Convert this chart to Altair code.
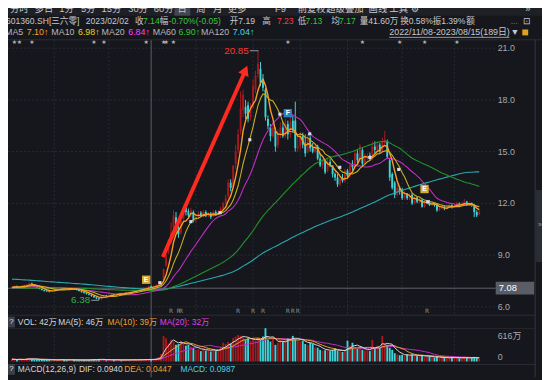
import altair as alt
import numpy as np
import pandas as pd

# ---------------- data ----------------
# warm-up closes before 2022/11/08, only used so MA60 / MA120 start at the right level
pre_close = [
    8.05, 8.12, 8.30, 8.41, 8.25, 8.14, 8.33, 8.52, 8.60, 8.44,
    8.31, 8.22, 8.40, 8.48, 8.35, 8.20, 8.12, 8.03, 8.18, 8.30,
    8.42, 8.33, 8.21, 8.10, 8.28, 8.39, 8.24, 8.12, 8.02, 8.16,
    8.30, 8.22, 8.11, 8.04, 8.13, 8.25, 8.32, 8.20, 8.10, 8.01,
    8.18, 8.29, 8.38, 8.22, 8.12, 8.20, 8.31, 8.19, 8.05, 8.11,
    8.20, 8.08, 7.98, 7.90, 7.96, 7.88,
    7.62, 7.48, 7.36, 7.30, 7.22, 7.15, 7.18, 7.10, 7.05, 7.12,
    7.08, 7.00, 7.06, 7.14, 7.09, 7.02, 6.95, 7.01, 7.08, 7.03,
    7.10, 7.16, 7.11, 7.04, 7.09, 7.02, 6.96, 7.00, 7.07, 7.02,
    7.01, 7.08, 7.03, 6.97, 7.02, 7.09, 7.15, 7.10, 7.04, 7.08,
    7.02, 6.96, 7.01, 7.07, 7.03, 7.09, 7.16, 7.11, 7.05, 6.99,
    7.03, 7.08, 7.04, 7.10, 7.15, 7.12, 7.06, 7.10, 7.16, 7.12,
    7.07, 7.11, 7.16, 7.12,
]

close = [
    7.15, 7.20, 7.12, 7.18, 7.22, 7.25, 7.30, 7.35, 7.28, 7.20,
    7.10, 7.05, 6.98, 6.92, 6.90, 6.88, 6.95, 7.00, 7.02, 7.05,
    7.08, 7.05, 7.00, 7.04, 7.06, 7.02, 6.98, 6.92, 6.85, 6.80,
    6.75, 6.70, 6.62, 6.55, 6.48, 6.45, 6.60, 6.65, 6.62, 6.68,
    6.72, 6.70, 6.75, 6.78, 6.76, 6.80, 6.84, 6.86, 6.90, 6.92,
    6.96, 7.00, 7.05, 7.08, 7.10, 7.19, 7.14, 7.20, 7.26, 7.32,
    7.45, 8.20, 9.00, 9.90, 10.30, 11.30, 10.50, 10.20, 11.00, 11.70,
    11.50, 11.30, 11.60, 11.00, 11.20, 11.40, 11.30, 11.50, 11.30, 11.40,
    11.20, 11.50, 11.40, 11.50, 11.70, 12.00, 12.30, 13.20, 12.90, 14.20,
    15.00, 16.00, 17.50, 18.30, 17.20, 16.90, 17.60, 18.80, 19.40, 20.10,
    19.00, 18.70, 17.00, 16.50, 15.90, 16.40, 15.30, 16.00, 16.40, 15.90,
    16.60, 16.00, 16.70, 16.30, 15.20, 15.30, 15.90, 15.40, 14.90, 15.80,
    15.20, 15.00, 15.30, 14.60, 14.20, 14.50, 13.80, 14.40, 14.20, 13.70,
    13.50, 13.10, 13.40, 13.30, 13.90, 13.60, 14.20, 14.10, 14.90, 14.50,
    15.30, 14.30, 14.60, 14.70, 14.60, 15.30, 15.10, 15.40, 15.00, 15.60,
    15.70, 14.70, 13.50, 12.90, 12.50, 12.90, 12.70, 12.30, 12.50, 12.30,
    12.40, 12.00, 12.30, 12.10, 12.20, 11.80, 12.00, 12.10, 11.90, 12.00,
    11.90, 11.60, 11.70, 11.80, 11.70, 11.80, 11.90, 11.80, 11.90, 12.00,
    11.90, 12.00, 12.10, 11.90, 12.00, 11.90, 11.50, 11.30, 11.50,
]

open_ = [
    7.10, 7.14, 7.20, 7.12, 7.17, 7.21, 7.24, 7.30, 7.36, 7.27,
    7.19, 7.10, 7.04, 6.97, 6.93, 6.91, 6.88, 6.95, 7.00, 7.02,
    7.05, 7.09, 7.05, 7.00, 7.03, 7.07, 7.02, 6.98, 6.92, 6.85,
    6.80, 6.76, 6.70, 6.62, 6.55, 6.50, 6.46, 6.60, 6.66, 6.62,
    6.68, 6.73, 6.70, 6.75, 6.79, 6.76, 6.80, 6.84, 6.86, 6.90,
    6.93, 6.96, 7.00, 7.05, 7.08, 7.11, 7.19, 7.14, 7.20, 7.27,
    7.32, 7.55, 8.40, 9.20, 10.00, 10.60, 11.20, 10.60, 10.30, 11.10,
    11.75, 11.55, 11.30, 11.50, 11.00, 11.20, 11.45, 11.30, 11.50, 11.30,
    11.40, 11.25, 11.50, 11.40, 11.50, 11.70, 12.00, 12.40, 13.20, 13.00,
    14.30, 15.10, 16.20, 17.40, 17.60, 17.70, 17.00, 17.60, 18.60, 19.50,
    19.80, 19.20, 18.60, 16.90, 16.40, 15.90, 16.20, 15.40, 16.00, 16.40,
    15.90, 16.60, 16.00, 16.80, 16.80, 15.20, 15.30, 15.90, 15.40, 15.00,
    15.80, 15.20, 15.00, 15.30, 14.60, 14.20, 14.50, 13.90, 14.40, 14.20,
    13.70, 13.50, 13.10, 13.45, 13.30, 13.90, 13.60, 14.30, 14.10, 14.90,
    14.50, 15.10, 14.30, 14.60, 14.80, 14.60, 15.30, 15.10, 15.40, 15.00,
    15.50, 15.60, 14.50, 13.70, 13.20, 12.50, 12.90, 12.80, 12.30, 12.55,
    12.30, 12.50, 12.00, 12.35, 12.10, 12.20, 11.80, 12.00, 12.10, 11.90,
    12.00, 11.95, 11.60, 11.70, 11.80, 11.70, 11.80, 11.90, 11.80, 11.90,
    12.00, 11.90, 12.00, 12.10, 11.90, 12.00, 11.90, 11.50, 11.35,
]

high = [
    7.20, 7.24, 7.23, 7.22, 7.26, 7.29, 7.34, 7.42, 7.40, 7.30,
    7.22, 7.13, 7.06, 7.00, 6.96, 6.94, 6.99, 7.04, 7.06, 7.09,
    7.12, 7.12, 7.08, 7.07, 7.10, 7.10, 7.05, 7.00, 6.94, 6.88,
    6.83, 6.79, 6.73, 6.65, 6.58, 6.53, 6.64, 6.69, 6.69, 6.71,
    6.76, 6.76, 6.78, 6.82, 6.81, 6.83, 6.87, 6.90, 6.93, 6.96,
    6.99, 7.04, 7.09, 7.12, 7.14, 7.23, 7.23, 7.24, 7.30, 7.38,
    7.50, 8.20, 9.02, 9.90, 10.89, 11.60, 11.50, 10.90, 11.20, 11.90,
    11.95, 11.70, 11.75, 11.60, 11.35, 11.55, 11.55, 11.60, 11.60, 11.50,
    11.50, 11.60, 11.60, 11.60, 11.80, 12.10, 12.50, 13.40, 13.40, 14.20,
    15.40, 16.30, 18.50, 18.60, 18.00, 17.90, 17.80, 19.20, 19.70, 20.85,
    20.20, 19.50, 18.70, 17.10, 16.60, 16.70, 16.40, 16.30, 16.70, 16.70,
    16.90, 16.80, 17.00, 17.10, 17.90, 15.90, 16.10, 16.10, 16.00, 16.00,
    15.90, 15.50, 15.45, 15.40, 14.90, 14.60, 14.50, 14.60, 14.60, 14.20,
    13.80, 13.70, 13.60, 13.70, 14.00, 14.00, 14.40, 14.50, 15.06, 15.10,
    15.45, 15.20, 14.90, 14.90, 14.95, 15.60, 15.60, 15.60, 15.50, 15.80,
    16.20, 15.70, 14.60, 13.80, 13.30, 13.10, 13.00, 12.90, 12.70, 12.60,
    12.60, 12.60, 12.40, 12.40, 12.30, 12.30, 12.10, 12.20, 12.20, 12.10,
    12.05, 12.00, 11.80, 11.90, 11.90, 11.90, 12.00, 11.95, 12.00, 12.10,
    12.05, 12.10, 12.25, 12.15, 12.10, 12.05, 11.95, 11.60, 11.65,
]

low = [
    7.06, 7.10, 7.09, 7.08, 7.13, 7.17, 7.20, 7.26, 7.25, 7.16,
    7.06, 7.01, 6.94, 6.88, 6.86, 6.84, 6.85, 6.92, 6.97, 6.99,
    7.02, 7.01, 6.97, 6.97, 7.00, 6.99, 6.95, 6.89, 6.82, 6.76,
    6.71, 6.66, 6.58, 6.51, 6.44, 6.38, 6.42, 6.57, 6.58, 6.59,
    6.65, 6.66, 6.67, 6.72, 6.72, 6.73, 6.77, 6.81, 6.83, 6.87,
    6.90, 6.93, 6.97, 7.02, 7.05, 7.08, 7.13, 7.10, 7.16, 7.22,
    7.28, 7.50, 8.30, 9.05, 9.70, 10.50, 10.30, 10.00, 10.20, 11.00,
    11.30, 11.15, 11.20, 10.90, 10.90, 11.10, 11.20, 11.25, 11.20, 11.20,
    11.10, 11.20, 11.30, 11.35, 11.45, 11.60, 11.90, 12.30, 12.70, 12.90,
    14.00, 14.90, 16.00, 17.00, 16.90, 16.70, 16.80, 17.50, 18.40, 19.30,
    18.80, 18.50, 16.80, 16.30, 15.60, 15.80, 15.00, 15.20, 15.80, 15.80,
    15.80, 15.70, 15.80, 16.10, 15.00, 15.00, 15.10, 15.20, 14.70, 14.90,
    15.00, 14.90, 14.90, 14.50, 14.10, 14.00, 13.70, 13.80, 14.10, 13.50,
    13.30, 12.95, 13.00, 13.20, 13.20, 13.50, 13.50, 13.90, 14.00, 14.30,
    14.40, 14.10, 14.20, 14.50, 14.50, 14.50, 14.90, 15.00, 14.90, 14.90,
    15.30, 14.60, 13.30, 12.80, 12.30, 12.40, 12.50, 12.20, 12.20, 12.20,
    12.20, 11.90, 11.95, 12.00, 12.00, 11.75, 11.75, 11.90, 11.85, 11.85,
    11.80, 11.50, 11.55, 11.65, 11.60, 11.65, 11.75, 11.70, 11.75, 11.85,
    11.85, 11.85, 11.95, 11.85, 11.85, 11.80, 11.20, 11.20, 11.30,
]

volume = [  # 万
    55, 48, 40, 62, 45, 50, 70, 85, 60, 45,
    40, 38, 42, 50, 35, 30, 45, 40, 38, 42,
    48, 36, 33, 40, 44, 38, 35, 32, 36, 40,
    42, 38, 45, 50, 55, 60, 48, 40, 35, 38,
    42, 36, 40, 38, 34, 36, 40, 42, 45, 38,
    40, 44, 48, 50, 46, 55, 42, 60, 70, 110,
    180, 616, 560, 430, 520, 480, 400, 420, 500, 430,
    380, 400, 360, 330, 280, 300, 250, 320, 260, 280,
    240, 300, 250, 270, 350, 450, 420, 470, 430, 560,
    600, 640, 620, 580, 520, 560, 500, 540, 500, 560,
    520, 600, 800, 520, 480, 570, 400, 450, 520, 480,
    520, 560, 560, 616, 540, 500, 480, 500, 420, 400,
    450, 420, 340, 330, 280, 260, 270, 290, 250, 280,
    320, 260, 240, 230, 260, 500, 380, 450, 330, 300,
    360, 280, 260, 270, 250, 520, 300, 380, 330, 616,
    450, 400, 330, 280, 200, 170, 150, 160, 140, 170,
    150, 165, 140, 130, 150, 140, 120, 110, 130, 100,
    95, 120, 90, 85, 100, 80, 90, 110, 85, 95,
    80, 75, 120, 90, 80, 85, 110, 95, 70,
]

price_ticks = [21.0, 18.0, 15.0, 12.0, 9.0, 6.0]
month_start_idx = [17, 39, 74, 97, 116, 135, 157, 178]
crosshair_idx = [56]
crosshair_price = [7.08]
star_idx = [1, 3, 8, 33, 37, 54, 61, 62, 65, 111, 141, 156, 166, 179]
r_idx = [64, 67, 68, 91, 97, 101, 111, 113, 115, 167]
sig_idx = [59.5, 72, 83.7, 95.7, 107.8, 119.8, 131.9, 144, 155.6, 167.3]
sig_price = [7.4, 10.94, 11.46, 15.69, 17.17, 16.03, 14.09, 14.66, 13.97, 12.09]
event_idx = [54, 111, 166]
event_price = [7.57, 17.23, 12.83]
event_label = ["E", "F", "E"]
event_color = ["#d6a834", "#2b80c4", "#d6a834"]
arrow_idx = [60.7, 93.3]
arrow_price = [8.89, 19.5]
arrow_head = [93.9, 19.72]
hi_label = [95.3, 20.85]
lo_label = [31.5, 6.38]
vol_tick = [616]

# ---------------- styling ----------------
FONT = "Liberation Sans, Noto Sans CJK SC, sans-serif"
BG = "#15171c"
UP = "#a8191d"
DOWN = "#3dd4da"
GRID = "#2a2d35"
AX = "#a9a9ae"
TXT = "#c8c8cc"
W, H, OFF = 542, 372, 8

XS = alt.Scale(domain=[0.3891, 211.284], nice=False, zero=False)
PS = alt.Scale(domain=[1.9143, 23.1714], nice=False, zero=False)
VS = alt.Scale(domain=[-379.0, 8433.6], nice=False, zero=False)


def X(f):
    return alt.X(f, type="quantitative", scale=XS, axis=None)


def PY(f):
    return alt.Y(f, type="quantitative", scale=PS, axis=None)


def VY(f):
    return alt.Y(f, type="quantitative", scale=VS, axis=None)


n = len(close)
df = pd.DataFrame({"i": np.arange(n), "o": open_, "c": close, "h": high,
                   "l": low, "v": volume})
df["col"] = np.where(df["c"] >= df["o"], UP, DOWN)
df["z"] = 0.0
allc = pd.Series(pre_close + close, dtype=float)
for k in (5, 10, 20, 60, 120):
    df[f"ma{k}"] = allc.rolling(k, min_periods=1).mean().iloc[len(pre_close):].to_numpy()
vser = pd.Series(volume, dtype=float)
for k in (5, 10, 20):
    df[f"vma{k}"] = vser.rolling(k, min_periods=1).mean().to_numpy()

base = alt.Chart(df)
dummy = pd.DataFrame({"a": [0]})


def T(x, y, s, color=TXT, size=9, align="left", weight="normal"):
    return alt.Chart(dummy).mark_text(
        text=s, align=align, baseline="middle", color=color, fontSize=size,
        font=FONT, fontWeight=weight
    ).encode(x=alt.value(x - OFF), y=alt.value(y - OFF))


def RECT(x1, y1, x2, y2, color):
    return alt.Chart(dummy).mark_rect(color=color).encode(
        x=alt.value(x1 - OFF), x2=alt.value(x2 - OFF),
        y=alt.value(y1 - OFF), y2=alt.value(y2 - OFF))


def HL(x1, x2, y, color=GRID, w=1, dash=None):
    kw = dict(color=color, strokeWidth=w)
    if dash:
        kw["strokeDash"] = dash
    return alt.Chart(dummy).mark_rule(**kw).encode(
        x=alt.value(x1 - OFF), x2=alt.value(x2 - OFF), y=alt.value(y - OFF))


def VL(x, y1, y2, color=GRID, w=1):
    return alt.Chart(dummy).mark_rule(color=color, strokeWidth=w).encode(
        x=alt.value(x - OFF), y=alt.value(y1 - OFF), y2=alt.value(y2 - OFF))


# ---------------- price panel ----------------
tick_df = pd.DataFrame({"p": price_ticks})
hgrid = alt.Chart(tick_df).mark_rule(color=GRID, strokeDash=[2, 2]).encode(
    y=PY("p"), x=alt.value(0), x2=alt.value(495))
plabels = alt.Chart(tick_df).mark_text(
    align="left", baseline="middle", color=AX, fontSize=9, font=FONT
).encode(y=PY("p"), x=alt.value(497), text=alt.Text("p:Q", format=".1f"))

mdf = pd.DataFrame({"m": month_start_idx})
vgrid_p = alt.Chart(mdf).mark_rule(color=GRID, strokeDash=[2, 2]).encode(
    x=X("m"), y=alt.value(30), y2=alt.value(309))

cx = alt.Chart(pd.DataFrame({"m": crosshair_idx})).mark_rule(
    color="#5d6069", strokeWidth=1).encode(x=X("m"), y=alt.value(30), y2=alt.value(H))
ch_df = pd.DataFrame({"p": crosshair_price})
cy = alt.Chart(ch_df).mark_rule(color="#62656e", strokeWidth=1).encode(
    y=PY("p"), x=alt.value(0), x2=alt.value(495))
cy_txt = alt.Chart(ch_df).mark_text(
    align="left", baseline="middle", color="#ffffff", fontSize=9.5, font=FONT
).encode(y=PY("p"), x=alt.value(498), text=alt.Text("p:Q", format=".2f"))

wick = base.mark_rule(strokeWidth=1).encode(
    x=X("i"), y=PY("l"), y2=alt.Y2("h"), color=alt.Color("col:N", scale=None))
body = base.mark_bar(size=1.9).encode(
    x=X("i"), y=PY("o"), y2=alt.Y2("c"), color=alt.Color("col:N", scale=None))

ma_colors = {"ma120": "#2ba7b2", "ma60": "#22932a", "ma20": "#c02cc4",
             "ma10": "#c8b020", "ma5": "#f5a025"}
ma_lines = [base.mark_line(color=c, strokeWidth=1.1 if k != "ma5" else 1.4).encode(
    x=X("i"), y=PY(k)) for k, c in ma_colors.items()]

sig = alt.Chart(pd.DataFrame({"i": sig_idx, "p": sig_price})).mark_square(
    size=10, color="#d8d8ee", opacity=1).encode(x=X("i"), y=PY("p"))

ev_df = pd.DataFrame({"i": event_idx, "p": event_price, "t": event_label,
                      "c": event_color})
ev_box = alt.Chart(ev_df).mark_square(size=72, opacity=1).encode(
    x=X("i"), y=PY("p"), color=alt.Color("c:N", scale=None))
ev_txt = alt.Chart(ev_df).mark_text(
    fontSize=7, font=FONT, color="#ffffff", fontWeight="bold", baseline="middle"
).encode(x=X("i"), y=PY("p"), text="t:N")

arr_df = pd.DataFrame({"i": [arrow_idx[0]], "i2": [arrow_idx[1]],
                       "p": [arrow_price[0]], "p2": [arrow_price[1]]})
arrow = alt.Chart(arr_df).mark_rule(color="#ff2a1f", strokeWidth=4).encode(
    x=X("i"), x2=alt.X2("i2"), y=PY("p"), y2=alt.Y2("p2"))
arrow_tip = alt.Chart(pd.DataFrame({"i": [arrow_head[0]], "p": [arrow_head[1]]})).mark_point(
    shape="triangle-up", size=130, filled=True, color="#ff2a1f", opacity=1, angle=24
).encode(x=X("i"), y=PY("p"))

hl_df = pd.DataFrame({"i": [hi_label[0]], "p": [hi_label[1]]})
hi_txt = alt.Chart(hl_df).mark_text(
    align="right", baseline="middle", color="#ff3434", fontSize=10, font=FONT
).encode(x=X("i"), y=PY("p"), text=alt.Text("p:Q", format=".2f"))
hi_line = alt.Chart(pd.DataFrame({"i": [hi_label[0] + 0.4], "i2": [99.2],
                                  "p": [hi_label[1]]})).mark_rule(color="#9a9aa0").encode(
    x=X("i"), x2=alt.X2("i2"), y=PY("p"))
lo_df = pd.DataFrame({"i": [lo_label[0]], "p": [lo_label[1]]})
lo_txt = alt.Chart(lo_df).mark_text(
    align="right", baseline="middle", color="#30b04c", fontSize=10, font=FONT
).encode(x=X("i"), y=PY("p"), text=alt.Text("p:Q", format=".2f"))
lo_line = alt.Chart(pd.DataFrame({"i": [lo_label[0] + 0.4], "i2": [35.0],
                                  "p": [lo_label[1]]})).mark_rule(color="#9a9aa0").encode(
    x=X("i"), x2=alt.X2("i2"), y=PY("p"))

stars = alt.Chart(pd.DataFrame({"i": star_idx})).mark_text(
    text="★", fontSize=6, color="#b8b8c0", font="DejaVu Sans", baseline="middle"
).encode(x=X("i"), y=alt.value(32))
rmarks = alt.Chart(pd.DataFrame({"i": r_idx})).mark_text(
    text="R", fontSize=6, color="#8d9099", font="DejaVu Sans", baseline="middle"
).encode(x=X("i"), y=alt.value(305))

price_panel = alt.layer(
    hgrid, vgrid_p, cx, cy, wick, body, *ma_lines, sig, ev_box, ev_txt,
    arrow, arrow_tip, hi_line, hi_txt, lo_line, lo_txt, stars, rmarks,
    plabels, RECT(503, 283, 542, 296, "#5a5d66"), cy_txt)

# ---------------- volume panel ----------------
vgrid_v = alt.Chart(mdf).mark_rule(color=GRID, strokeDash=[2, 2]).encode(
    x=X("m"), y=alt.value(322), y2=alt.value(359))
vbars = base.mark_bar(size=1.9).encode(
    x=X("i"), y=VY("v"), y2=alt.Y2("z"), color=alt.Color("col:N", scale=None))
vma_colors = {"vma20": "#c42cc8", "vma10": "#f0a030", "vma5": "#d8d8d8"}
vma_lines = [base.mark_line(color=c, strokeWidth=1).encode(x=X("i"), y=VY(k))
             for k, c in vma_colors.items()]
vt_df = pd.DataFrame({"v": vol_tick})
vlabel = alt.Chart(vt_df).mark_text(
    align="left", baseline="middle", color=AX, fontSize=9, font=FONT
).encode(y=VY("v"), x=alt.value(497), text=alt.Text("v:Q", format="d"))
vlabel_u = alt.Chart(vt_df).mark_text(
    align="left", baseline="middle", color=AX, fontSize=9, font=FONT, dx=15, text="万"
).encode(y=VY("v"), x=alt.value(497))
vol_panel = alt.layer(vgrid_v, vbars, *vma_lines, vlabel, vlabel_u)

# ---------------- frame and header texts ----------------
frame = [
    RECT(0, 0, 560, 13, "#1e2026"),
    RECT(177, 0, 193, 13, "#44474f"),
    HL(0, 560, 37.5, "#2b2e36"),
    HL(0, 543, 317, "#2b2e36"),
    HL(0, 543, 330.5, "#24272e"),
    HL(0, 543, 367, "#2b2e36"),
    VL(543, 37.5, 380, "#363941"),
    RECT(544, 190, 550, 263, "#2a2d34"),
    T(546, 225, "»", "#9a9aa0", 7),
]
tabs = [("分时", 10), ("多日", 35), ("1分", 60), ("5分", 82), ("15分", 103),
        ("30分", 130), ("60分", 156), ("日", 180), ("周", 199), ("月", 216),
        ("更多", 231), ("F9", 279), ("前复权", 302), ("超级叠加", 331),
        ("画线", 374), ("工具", 395), ("⚙", 417), ("»", 533)]
texts = [T(x, 6.5, s, TXT, 9.5) for s, x in tabs]

GREEN = "#3cc43c"
RED = "#ff3b3b"
row2 = [
    (6, "601360.SH[三六零]", TXT), (87, "2023/02/02", TXT),
    (137, "收", TXT), (145, "7.14", GREEN), (162, "幅", TXT),
    (171, "-0.70%(-0.05)", GREEN), (233, "开7.19", TXT), (266, "高", TXT),
    (281, "7.23", RED), (302, "低", TXT), (310, "7.13", GREEN),
    (336, "均", TXT), (344, "7.17", GREEN), (365, "量41.60万", TXT),
    (406, "换0.58%", TXT), (439, "振1.39%", TXT), (473, "额", TXT),
    (518, "...", RED), (531, "⊡", TXT),
]
texts += [T(x, 18, s, c, 8.7) for x, s, c in row2]
row3 = [
    (5, "MA5", "#b8b8bc"), (27, "7.10↑", "#ff9d2b"),
    (52, "MA10", "#b8b8bc"), (79, "6.98↑", "#e8d42a"),
    (103, "MA20", "#b8b8bc"), (130, "6.84↑", "#ff3cff"),
    (155, "MA60", "#b8b8bc"), (181, "6.90↑", "#35c935"),
    (204, "MA120", "#b8b8bc"), (236, "7.04↑", "#49d3ea"),
    (395, "2022/11/08-2023/08/15(189日)", TXT), (518, "▼", TXT),
]
texts += [T(x, 29.5, s, c, 9) for x, s, c in row3]
texts += [HL(395, 517, 35, "#9a9aa0"), RECT(530, 27, 536, 33, "#e0a020")]

texts += [RECT(8, 318.5, 15, 329.5, "#3c3f47"), T(11.5, 324, "?", "#e0e0e0", 8, "center")]
vol_hdr = [(18, "VOL: 42万", "#d8d8d8"), (59, "MA(5): 46万", "#d8d8d8"),
           (109, "MA(10): 39万", "#f0a030"), (162, "MA(20): 32万", "#e040e8")]
texts += [T(x, 324, s, c, 8.5) for x, s, c in vol_hdr]
texts += [T(505, 359, "0", AX, 9)]
texts += [RECT(8, 366.5, 15, 377.5, "#3c3f47"), T(11.5, 372, "?", "#e0e0e0", 8, "center")]
macd_hdr = [(18, "MACD(12,26,9)", "#d8d8d8"), (80, "DIF: 0.0940", "#d8d8d8"),
            (126, "DEA: 0.0447", "#f0a030"), (183, "MACD: 0.0987", "#49d3ea")]
texts += [T(x, 372, s, c, 8.5) for x, s, c in macd_hdr]

chart = alt.layer(*frame, price_panel, vol_panel, *texts).resolve_scale(
    y="independent"
).properties(
    width=W, height=H, padding=0,
    autosize=alt.AutoSizeParams(type="none"),
).configure(background=BG).configure_view(stroke=None)

chart.save("out.html", embed_options={"renderer": "svg", "actions": False})
